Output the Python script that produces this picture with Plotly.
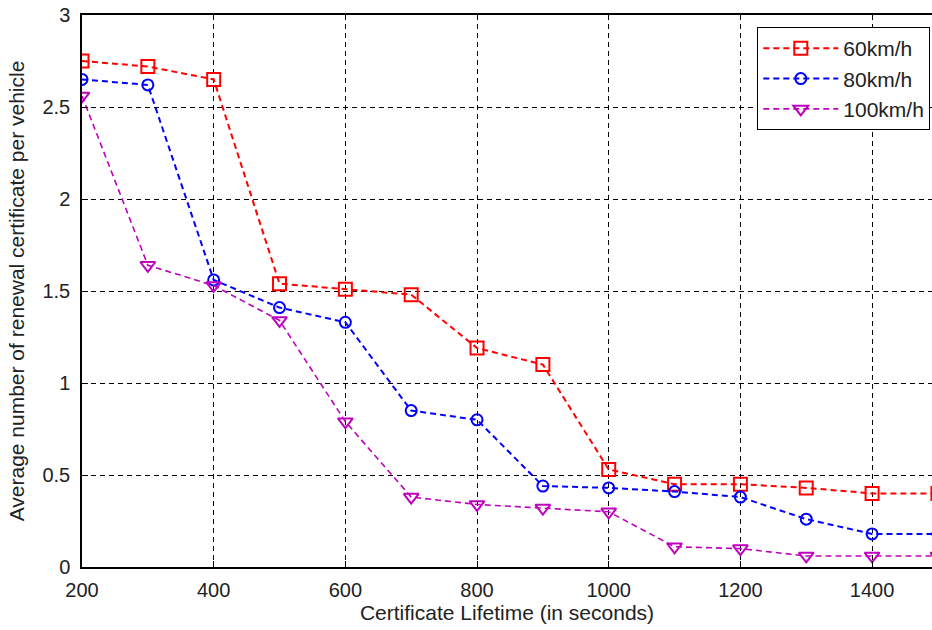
import plotly.graph_objects as go

lifetime = [200, 300, 400, 500, 600, 700, 800, 900, 1000, 1100, 1200, 1300, 1400, 1500]
v60 = [2.75, 2.72, 2.65, 1.54, 1.51, 1.48, 1.19, 1.10, 0.53, 0.45, 0.45, 0.43, 0.40, 0.40]
v80 = [2.65, 2.62, 1.56, 1.41, 1.33, 0.85, 0.80, 0.44, 0.43, 0.41, 0.38, 0.26, 0.18, 0.18]
v100 = [2.56, 1.64, 1.53, 1.34, 0.79, 0.38, 0.34, 0.32, 0.30, 0.11, 0.10, 0.06, 0.06, 0.06]
names = ["60km/h", "80km/h", "100km/h"]
colors = ["#ff0000", "#0000ff", "#bf00bf"]
symbols = ["square-open", "circle-open", "triangle-down-open"]
sizes = [13, 11, 13]
widths = [2, 2, 1.6]

fig = go.Figure()
for vals, nm, c, s, sz, w in zip([v60, v80, v100], names, colors, symbols, sizes, widths):
    fig.add_trace(go.Scatter(
        x=lifetime, y=vals, name=nm, mode="lines+markers",
        line=dict(color=c, width=w, dash="6px,4px"),
        marker=dict(symbol=s, size=sz, color=c, line=dict(width=2, color=c)),
    ))

font = "Liberation Sans, Arial, sans-serif"
fig.update_layout(
    width=932, height=630,
    margin=dict(l=82, r=0, t=15, b=63),
    paper_bgcolor="white", plot_bgcolor="white",
    font=dict(family=font, size=20, color="#222222"),
    showlegend=True,
    legend=dict(x=0.998, y=0.978, xanchor="right", yanchor="top",
                bordercolor="black", borderwidth=1, bgcolor="white",
                font=dict(size=21, color="#222222"), tracegroupgap=0,
                itemwidth=75),
    xaxis=dict(range=[200, 1491], tickvals=[200, 400, 600, 800, 1000, 1200, 1400],
               showgrid=True, gridcolor="black", griddash="5px,4px", gridwidth=1,
               showline=True, linecolor="black", linewidth=1.5, mirror=True,
               ticks="inside", ticklen=6, tickcolor="black",
               ticklabelstandoff=4,
               zeroline=False,
               title=dict(text="Certificate Lifetime (in seconds)", standoff=4,
                          font=dict(size=21))),
    yaxis=dict(range=[0, 3], tickvals=[0, 0.5, 1, 1.5, 2, 2.5, 3],
               ticktext=["0", "0.5", "1", "1.5", "2", "2.5", "3"],
               showgrid=True, gridcolor="black", griddash="5px,4px", gridwidth=1,
               showline=True, linecolor="black", linewidth=1.5,
               ticks="inside", ticklen=6, tickcolor="black",
               ticklabelstandoff=6,
               zeroline=False,
               title=dict(text="Average number of renewal certificate per vehicle",
                          standoff=12, font=dict(size=21))),
)

fig.write_html("out.html")
